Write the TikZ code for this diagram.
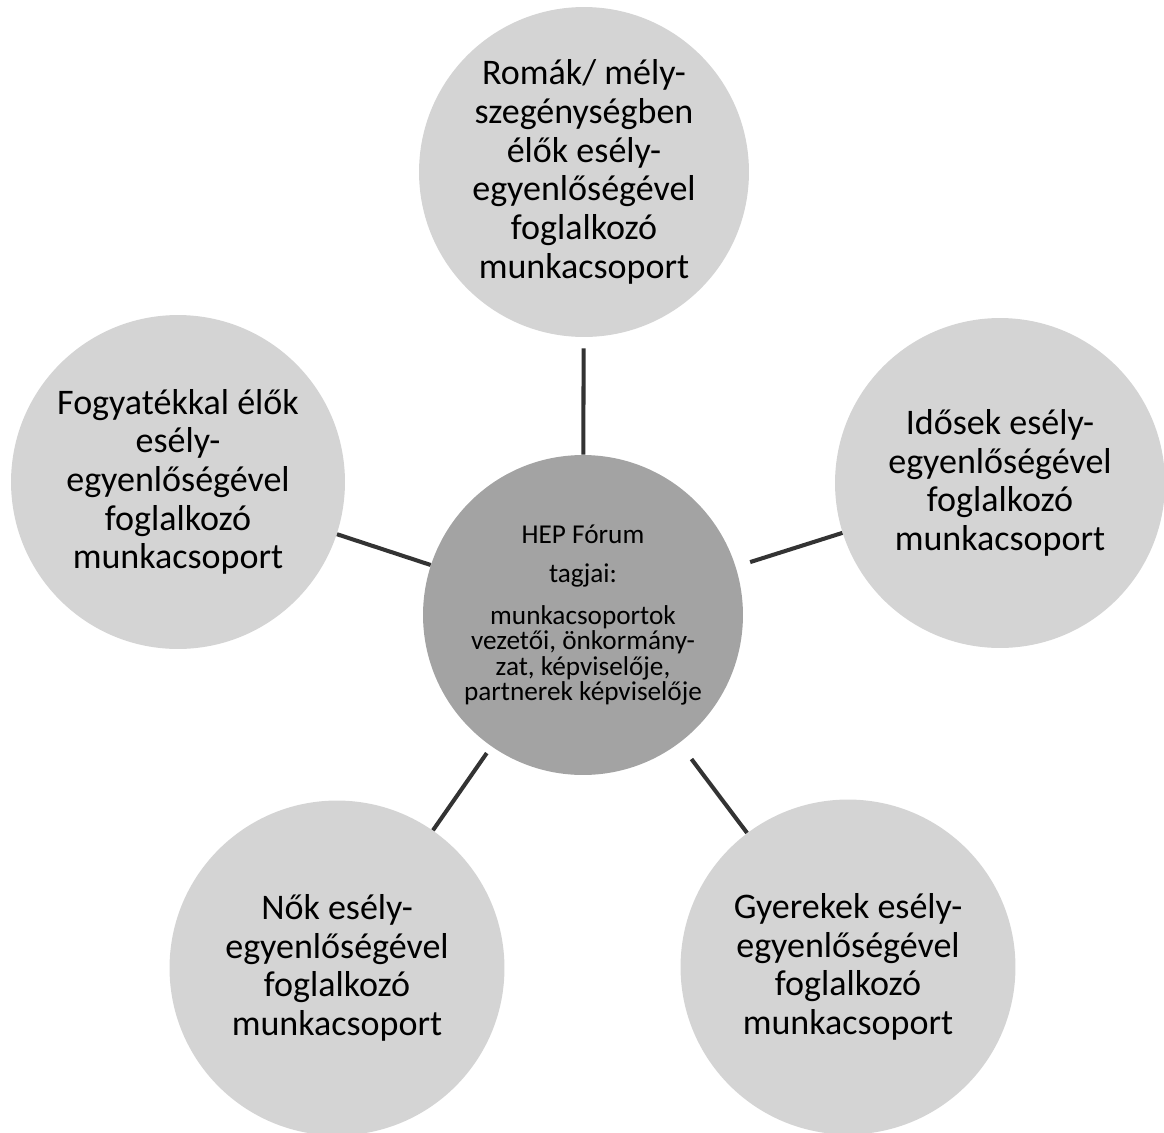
\documentclass[tikz,border=0pt]{standalone}
\usepackage{fontspec}
\setmainfont{Carlito}
\usetikzlibrary{positioning}

\begin{document}
\begin{tikzpicture}[
  x=0.02cm, y=-0.02cm,
  group/.style={circle, fill=black!17, minimum size=6.6cm, inner sep=0pt, align=center, font=\fontsize{20.5}{22}\selectfont},
  hub/.style={circle, fill=black!36, minimum size=6.4cm, inner sep=0pt, align=center, font=\fontsize{15.5}{14.5}\selectfont},
  link/.style={line width=2.3pt, draw=black!80}
]
  \useasboundingbox (0,0) rectangle (1164,1133);

  \node[hub] (hep) at (583,615) {HEP Fórum\\[8pt] tagjai:\\[9pt] munkacsoportok\\ vezetői, önkormány-\\ zat, képviselője,\\ partnerek képviselője};

  \node[group] (roma) at (584,172) {Romák/ mély-\\ szegénységben\\ élők esély-\\ egyenlőségével\\ foglalkozó\\ munkacsoport};
  \node[group, minimum size=6.68cm] (fogy) at (178,482) {Fogyatékkal élők\\ esély-\\ egyenlőségével\\ foglalkozó\\ munkacsoport};
  \node[group] (idos) at (1000,483) {Idősek esély-\\ egyenlőségével\\ foglalkozó\\ munkacsoport};
  \node[group, minimum size=6.7cm] (nok) at (337,968) {Nők esély-\\ egyenlőségével\\ foglalkozó\\ munkacsoport};
  \node[group, minimum size=6.7cm] (gyer) at (848,967) {Gyerekek esély-\\ egyenlőségével\\ foglalkozó\\ munkacsoport};

  \draw[link, shorten >=0.22cm] (hep) -- (roma);
  \draw[link] (hep) -- (fogy);
  \draw[link, shorten <=0.3cm] (hep) -- (idos);
  \draw[link, shorten <=0.16cm] (hep) -- (nok);
  \draw[link, shorten <=0.4cm] (hep) -- (gyer);
\end{tikzpicture}
\end{document}
